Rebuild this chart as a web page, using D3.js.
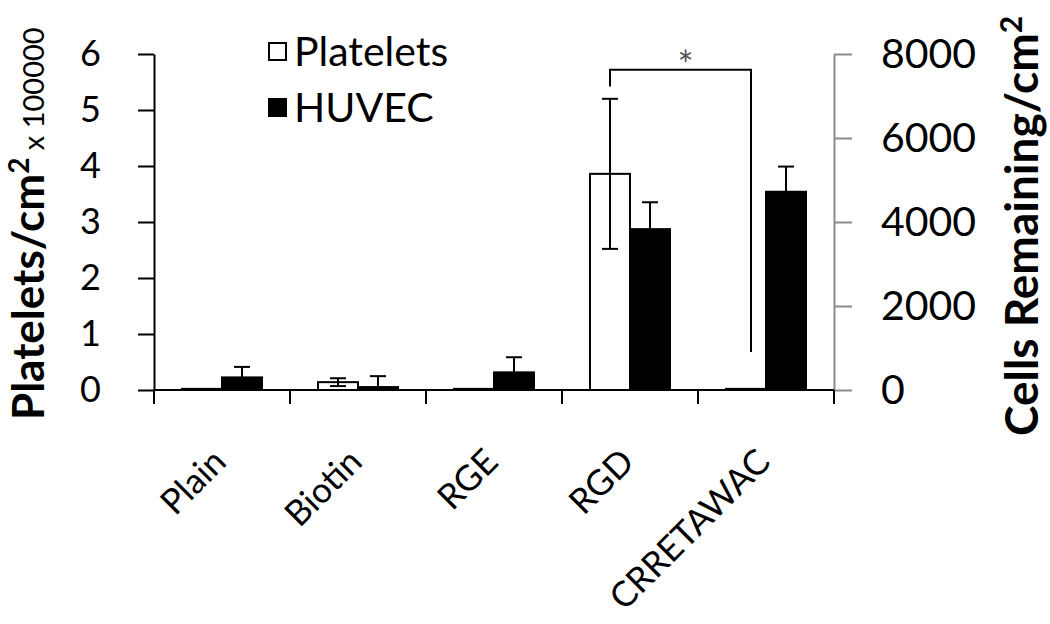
<!DOCTYPE html>
<html>
<head>
<meta charset="utf-8">
<script src="https://cdn.jsdelivr.net/npm/d3@7"></script>
<style>
  html, body { margin: 0; padding: 0; background: #fff; }
  svg { display: block; font-family: Lato, "Open Sans", sans-serif; }
</style>
</head>
<body>
<svg id="chart" width="1050" height="624"></svg>
<script>
// ---- data ----
const categories = ["Plain", "Biotin", "RGE", "RGD", "CRRETAWAC"];
const seriesNames = ["Platelets", "HUVEC"];
const plateletValues = [0.02, 0.14, 0.02, 3.86, 0.02];      // x 100000 platelets/cm2 (left axis)
const plateletErrors = [0, 0.07, 0, 1.34, 0];
const huvecValues = [300, 70, 420, 3830, 4720];              // cells remaining/cm2 (right axis)
const huvecErrors = [250, 260, 360, 640, 600];
const leftTicks = [0, 1, 2, 3, 4, 5, 6];
const rightTicks = [0, 2000, 4000, 6000, 8000];
const significance = { from: "RGD", to: "CRRETAWAC", label: "*", top: 5.72, leftEnd: 5.42, rightEnd: 0.68 };

// ---- layout ----
const svg = d3.select("#chart");
const plotLeft = 154, plotRight = 834, plotTop = 54, plotBottom = 390;

const x = d3.scaleBand().domain(categories).range([plotLeft, plotRight]).padding(0);
const xSub = d3.scaleBand().domain(seriesNames).range([28, 108]).padding(0);
const yL = d3.scaleLinear().domain([0, 6]).range([plotBottom, plotTop]);
const yR = d3.scaleLinear().domain([0, 8000]).range([plotBottom, plotTop]);

// ---- bars ----
const pData = categories.map((c, i) => ({ c, v: plateletValues[i], e: plateletErrors[i] }));
const hData = categories.map((c, i) => ({ c, v: huvecValues[i], e: huvecErrors[i] }));

svg.append("g").selectAll("rect").data(pData).join("rect")
  .attr("x", d => x(d.c) + xSub("Platelets"))
  .attr("y", d => yL(d.v))
  .attr("width", xSub.bandwidth())
  .attr("height", d => yL(0) - yL(d.v))
  .attr("fill", "#fff").attr("stroke", "#000").attr("stroke-width", 2);

svg.append("g").selectAll("rect").data(hData).join("rect")
  .attr("x", d => x(d.c) + xSub("HUVEC"))
  .attr("y", d => yR(d.v))
  .attr("width", xSub.bandwidth())
  .attr("height", d => yR(0) - yR(d.v))
  .attr("fill", "#000").attr("stroke", "#000").attr("stroke-width", 2);

// ---- error bars ----
const cap = 8;
const pErr = svg.append("g").attr("stroke", "#000").attr("stroke-width", 2);
pData.filter(d => d.e > 0).forEach(d => {
  const cx = x(d.c) + xSub("Platelets") + xSub.bandwidth() / 2;
  const lo = Math.max(0, d.v - d.e);
  pErr.append("line").attr("x1", cx).attr("x2", cx).attr("y1", yL(d.v + d.e)).attr("y2", yL(lo));
  pErr.append("line").attr("x1", cx - cap).attr("x2", cx + cap).attr("y1", yL(d.v + d.e)).attr("y2", yL(d.v + d.e));
  if (d.v - d.e > 0.02)
    pErr.append("line").attr("x1", cx - cap).attr("x2", cx + cap).attr("y1", yL(lo)).attr("y2", yL(lo));
});
const hErr = svg.append("g").attr("stroke", "#000").attr("stroke-width", 2);
hData.filter(d => d.e > 0).forEach(d => {
  const cx = x(d.c) + xSub("HUVEC") + xSub.bandwidth() / 2;
  hErr.append("line").attr("x1", cx).attr("x2", cx).attr("y1", yR(d.v + d.e)).attr("y2", yR(d.v));
  hErr.append("line").attr("x1", cx - cap).attr("x2", cx + cap).attr("y1", yR(d.v + d.e)).attr("y2", yR(d.v + d.e));
});

// ---- significance bracket ----
const bx1 = x(significance.from) + xSub("Platelets") + xSub.bandwidth() / 2;
const bx2 = x(significance.to) + xSub("Platelets") + xSub.bandwidth() / 2 + 5;
svg.append("path")
  .attr("d", `M${bx1},${yL(significance.leftEnd)}V${yL(significance.top)}H${bx2}V${yL(significance.rightEnd)}`)
  .attr("fill", "none").attr("stroke", "#000").attr("stroke-width", 2);
svg.append("text")
  .attr("x", (bx1 + bx2) / 2 + 5).attr("y", yL(significance.top) + 9)
  .attr("text-anchor", "middle").attr("font-size", 38).attr("fill", "#555")
  .text(significance.label);

// ---- axes ----
const gL = svg.append("g").attr("transform", `translate(${plotLeft},0)`)
  .call(d3.axisLeft(yL).tickValues(leftTicks).tickFormat(d3.format("d")).tickSize(16).tickSizeOuter(0).tickPadding(37));
gL.selectAll("path, line").attr("stroke", "#000").attr("stroke-width", 2);
gL.selectAll("text").attr("font-size", 36).attr("fill", "#000").attr("font-family", "Lato");

const gR = svg.append("g").attr("transform", `translate(${plotRight},0)`)
  .call(d3.axisRight(yR).tickValues(rightTicks).tickFormat(d3.format("d")).tickSize(18).tickSizeOuter(0).tickPadding(29));
gR.selectAll("path, line").attr("stroke", "#8a8a8a").attr("stroke-width", 2);
gR.selectAll("text").attr("font-size", 41).attr("fill", "#000").attr("font-family", "Lato");

// x axis
const gX = svg.append("g").attr("transform", `translate(0,${plotBottom})`);
gX.append("line").attr("x1", plotLeft).attr("x2", plotRight).attr("y1", 0).attr("y2", 0)
  .attr("stroke", "#000").attr("stroke-width", 2);
const boundaries = categories.map(c => x(c)).concat([x.range()[1]]);
gX.selectAll("line.tick").data(boundaries).join("line").attr("class", "tick")
  .attr("x1", d => d).attr("x2", d => d).attr("y1", 0).attr("y2", 14)
  .attr("stroke", "#000").attr("stroke-width", 2);
gX.selectAll("text").data(categories).join("text")
  .attr("transform", d => `translate(${x(d) + x.bandwidth() / 2 + 6},${74}) rotate(-45)`)
  .attr("text-anchor", "end").attr("font-size", 35).attr("fill", "#000")
  .text(d => d);

// ---- axis titles ----
const tL = svg.append("text").attr("transform", "translate(44,420) rotate(-90)")
  .attr("text-anchor", "start").attr("fill", "#000");
tL.append("tspan").attr("font-weight", "bold").attr("font-size", 44).text("Platelets/cm");
tL.append("tspan").attr("font-weight", "bold").attr("font-size", 28).attr("dy", -15).text("2");
tL.append("tspan").attr("font-size", 29).attr("dy", 15).text(" x 100000");

const tR = svg.append("text").attr("transform", "translate(1038,436) rotate(-90)")
  .attr("text-anchor", "start").attr("fill", "#000");
tR.append("tspan").attr("font-weight", "bold").attr("font-size", 46).text("Cells Remaining/cm");
tR.append("tspan").attr("font-weight", "bold").attr("font-size", 30).attr("dy", -16).text("2");

// ---- legend ----
const legend = svg.append("g").attr("transform", "translate(268,42)");
const legendItems = [{ name: "Platelets", fill: "#fff" }, { name: "HUVEC", fill: "#000" }];
const li = legend.selectAll("g").data(legendItems).join("g")
  .attr("transform", (d, i) => `translate(0,${i * 56})`);
li.append("rect").attr("x", 1).attr("y", 1).attr("width", 17).attr("height", 17)
  .attr("fill", d => d.fill).attr("stroke", "#000").attr("stroke-width", 2);
li.append("text").attr("x", 26).attr("y", 24).attr("font-size", 41).attr("fill", "#000")
  .text(d => d.name);
</script>
</body>
</html>
